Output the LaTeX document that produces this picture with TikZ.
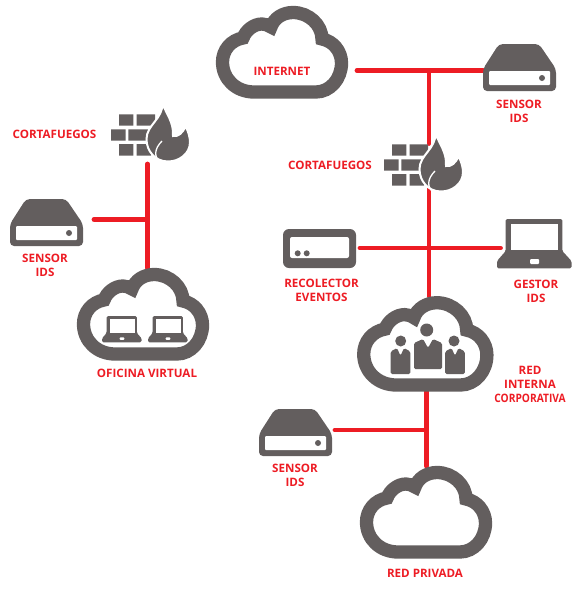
\documentclass[tikz,border=0pt]{standalone}
\usepackage{fontspec}
\usepackage{graphicx}
\setmainfont{Open Sans}
\definecolor{iconc}{HTML}{635E5E}
\definecolor{wirec}{HTML}{ED1C24}
\tikzset{
  x=1pt,y=-1pt,
  wire/.style={draw=wirec,line width=4.8pt,line cap=round},
  lab/.style={text=wirec,font=\fontsize{11.6}{14}\selectfont\bfseries,align=center,inner sep=0pt},
  box/.style={inner sep=0pt,outer sep=0pt},
  cloudpic/.pic={
    \draw[draw=iconc,fill=white,line width=13.3pt,line join=miter,miter limit=3]
      (38,86) .. controls (20,86) and (6.5,73) .. (6.5,56)
      .. controls (6.5,44) and (15,34) .. (27,32)
      .. controls (30,24) and (38,18) .. (46,18)
      .. controls (49,18) and (52,19) .. (55,21)
      .. controls (58,12) and (67,6.5) .. (77,6.5)
      .. controls (93,6.5) and (106,19) .. (106,33)
      .. controls (117,35) and (125.5,45) .. (125.5,57)
      .. controls (125.5,73) and (114,86) .. (100,86) -- cycle;
  },
  sensorpic/.pic={
    \fill[iconc,rounded corners=4pt] (16,0) -- (56,0) -- (73,25) -- (73,47) -- (0,47) -- (0,25) -- cycle;
    \fill[white,rounded corners=1pt] (6,27) rectangle (67,41);
    \fill[iconc] (59,34) circle (3);
  },
  firepic/.pic={
    \fill[iconc] (14,14.3) rectangle (28.3,25.7) (31.7,14.3) rectangle (50,25.7)
      (6,29.3) rectangle (20.7,40.7) (23.3,29.3) rectangle (44,40.7)
      (14,44) rectangle (28.3,55.7) (31.7,44) rectangle (46,55.7);
    \draw[fill=iconc,draw=white,line width=2pt]
      (57.5,3) .. controls (61,14) and (69,22) .. (68,36)
      .. controls (73,37) and (78,33) .. (80.5,26)
      .. controls (83,31) and (85,37) .. (85,42)
      .. controls (85,54) and (74,61.5) .. (63,61.5)
      .. controls (50,61.5) and (41.5,51) .. (41.5,39)
      .. controls (41.5,25) and (58,19) .. (57.5,3) -- cycle;
    \draw[white,line width=1.3pt]
      (55,62) .. controls (49,57) and (49,49) .. (57,41);
  },
  laptoppic/.pic={
    \fill[iconc,rounded corners=1.5pt] (8.7,0) -- (65.3,0) -- (65.3,32) -- (74.5,42) -- (74.5,49.3) -- (0,49.3) -- (0,42) -- (8.7,32) -- cycle;
    \fill[white] (14.3,5) rectangle (61,31);
    \fill[white,rounded corners=1pt] (33,40) rectangle (42,45);
  },
  bodypic/.pic={
    \fill[iconc,rounded corners=1.5pt] (-14,30) -- (-14,4) -- (-5,0) -- (0,9) -- (5,0) -- (14,4) -- (14,30) -- cycle;
  },
}
\begin{document}
\begin{tikzpicture}
\useasboundingbox (0,0) rectangle (586,592);
% icon boxes
\node[box,minimum width=132pt,minimum height=92pt] (internet) at (282,52) {};
\node[box,minimum width=73pt,minimum height=47pt] (sensorT) at (519.5,67.5) {};
\node[box,minimum width=10pt,minimum height=45pt] (fwR) at (429,166) {};
\node[box,minimum width=73pt,minimum height=39pt] (recol) at (319.5,248.5) {};
\node[box,minimum width=75pt,minimum height=49pt] (gestor) at (535,243.5) {};
\node[box,minimum width=137pt,minimum height=95pt] (corp) at (425.5,343.5) {};
\node[box,minimum width=73pt,minimum height=47pt] (sensorB) at (295.5,432.5) {};
\node[box,minimum width=132pt,minimum height=93pt] (privada) at (426,512.5) {};
\node[box,minimum width=10pt,minimum height=45pt] (fwL) at (147.5,141.5) {};
\node[box,minimum width=73pt,minimum height=47pt] (sensorL) at (46.5,222.5) {};
\node[box,minimum width=132pt,minimum height=93pt] (office) at (143.5,314.5) {};
\coordinate (jT) at (429,70.7);
\coordinate (jM) at (429,248);
\coordinate (jB) at (426.5,430);
\coordinate (jL) at (147.5,219.3);
% connectors
\draw[wire] ([xshift=9pt]internet.east |- jT) -- (sensorT.west |- jT);
\draw[wire] (jT) -- (fwR.north);
\draw[wire] (fwR.south) -- (fwR.south |- corp.north);
\draw[wire] ([xshift=4pt]recol.east |- jM) -- ([xshift=3pt]gestor.west |- jM);
\draw[wire] (jB |- corp.south) -- (jB |- privada.north);
\draw[wire] ([xshift=3pt]sensorB.east |- jB) -- (jB);
\draw[wire] (fwL.south) -- (fwL.south |- office.north);
\draw[wire] ([xshift=11pt]sensorL.east |- jL) -- (jL);
% icons
\pic at (216,6) {cloudpic};
\pic at (77,268) {cloudpic};
\pic at (360,466) {cloudpic};
\pic[scale=1.035] at (357,296) {cloudpic};
\pic at (483,44) {sensorpic};
\pic at (10,199) {sensorpic};
\pic at (259,409) {sensorpic};
\pic at (105,100) {firepic};
\pic at (378,130) {firepic};
\fill[iconc,rounded corners=6pt] (283,229) rectangle (356,268);
\fill[white,rounded corners=2pt] (290,237) rectangle (349,258);
\fill[iconc] (297.7,253.3) circle (3) (306.7,253.3) circle (3);
\pic at (497,219) {laptoppic};
\pic[scale=.533] at (102,316) {laptoppic};
\pic[scale=.533] at (148,316) {laptoppic};
\fill[iconc] (426.7,330) circle (6.5) (400.7,341) circle (5.5) (454,341) circle (5.5);
\pic at (428,339) {bodypic};
\pic[xscale=.7,yscale=.87] at (400.5,348) {bodypic};
\pic[xscale=.7,yscale=.87] at (455,348) {bodypic};
% labels
\node[lab] (l1) at (54.5,134) {CORTAFUEGOS};
\node[lab] (l2) at (330,165) {CORTAFUEGOS};
\node[lab] (l3) at (45,265) {SENSOR\\IDS};
\node[lab] (l4) at (147,373) {OFICINA VIRTUAL};
\node[lab] (l5) at (282,71) {INTERNET};
\node[lab] (l6) at (519,111) {SENSOR\\IDS};
\node[lab] (l7) at (321.5,290.5) {RECOLECTOR\\EVENTOS};
\node[lab] (l8) at (536,291) {GESTOR\\IDS};
\node[lab] (l9) at (530,384) {RED\\INTERNA\\\scalebox{.88}[1]{CORPORATIVA}};
\node[lab] (l10) at (295,475) {SENSOR\\IDS};
\node[lab] (l11) at (425,573) {RED PRIVADA};
\end{tikzpicture}
\end{document}
